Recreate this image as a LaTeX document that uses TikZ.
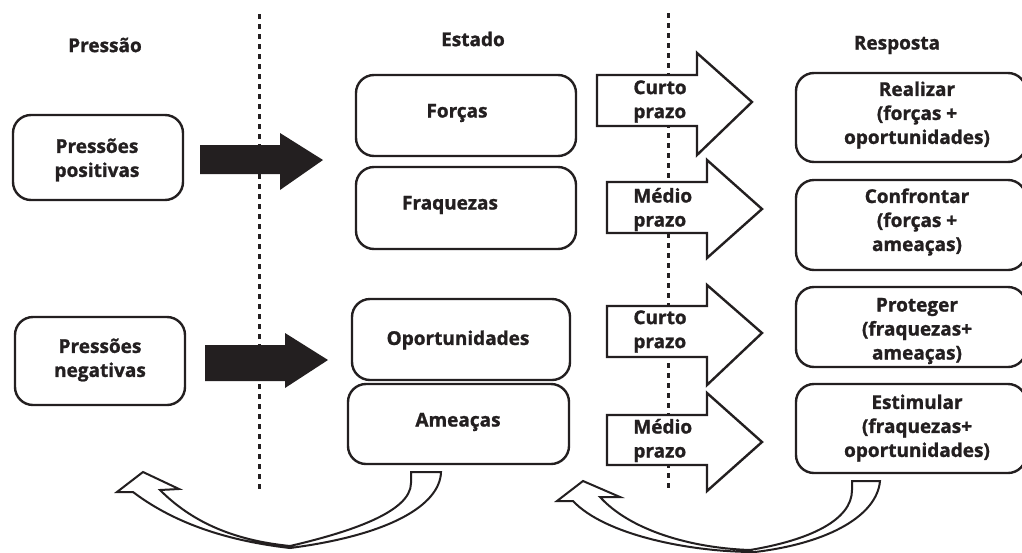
\documentclass[tikz,border=0pt]{standalone}
\usepackage{fontspec}
\setmainfont{Open Sans}[BoldFeatures={FakeBold=1.2}]
\definecolor{ink}{RGB}{35,31,32}
\begin{document}
\begin{tikzpicture}[x=0.5pt,y=-0.5pt,
  box/.style={draw=ink, line width=1.2pt, rounded corners=9pt, fill=white, inner sep=0pt},
  lbl/.style={font=\fontsize{9.5}{12}\selectfont\bfseries, text=ink, align=center, inner sep=0pt},
  sep/.style={draw=ink, line width=1.5pt, dash pattern=on 2.5pt off 2.5pt},
  blk/.style={fill=ink, draw=none},
  wht/.style={fill=white, draw=ink, line width=1.2pt, line join=miter},
  crv/.style={fill=white, draw=ink, line width=1pt, line join=miter}]
\useasboundingbox (0,0) rectangle (1022,552);
\clip (0,0) rectangle (1022,552);
\fill[white] (0,0) rectangle (1022,552);

% separators
\draw[sep] (259,14) -- (259,492);
\draw[sep] (668,13) -- (668,492);

% headers
\node[lbl] (hpress) at (105,45) {Pressão};
\node[lbl] (hest) at (473,39) {Estado};
\node[lbl] (hresp) at (897,45) {Resposta};

% pressure boxes
\node[box, minimum width=85pt, minimum height=42.5pt] (pp) at (98,157.5) {};
\node[box, minimum width=85pt, minimum height=44pt] (pn) at (100,361) {};
\node[lbl] (tpp) at (97,160) {Pressões\\positivas};
\node[lbl] (tpn) at (100,360) {Pressões\\negativas};

% state boxes
\node[box, minimum width=110pt, minimum height=40.5pt] (forcas) at (466,115.5) {};
\node[box, minimum width=110pt, minimum height=41pt] (fraq) at (466,208) {};
\node[box, minimum width=109pt, minimum height=40.5pt] (oport) at (461,339.5) {};
\node[box, minimum width=110.5pt, minimum height=40pt] (ameac) at (458.5,424) {};
\node[lbl] (tforcas) at (457,113) {Forças};
\node[lbl] (tfraq) at (450,205) {Fraquezas};
\node[lbl] (toport) at (458,340) {Oportunidades};
\node[lbl] (tameac) at (458,422) {Ameaças};

% response boxes
\node[box, minimum width=115pt, minimum height=44.5pt] (realiz) at (911,117.5) {};
\node[box, minimum width=115pt, minimum height=45pt] (confr) at (911,225) {};
\node[box, minimum width=115pt, minimum height=40pt] (prot) at (911,327) {};
\node[box, minimum width=115pt, minimum height=44.5pt] (estim) at (911,428.5) {};
\node[lbl] (trealiz) at (917,115) {Realizar\\(forças +\\oportunidades)};
\node[lbl] (tconfr) at (917,222) {Confrontar\\(forças +\\ameaças)};
\node[lbl] (tprot) at (917,331) {Proteger\\(fraquezas+\\ameaças)};
\node[lbl] (testim) at (917,428) {Estimular\\(fraquezas+\\oportunidades)};

% black arrows
\fill[blk] (200,145) -- (280,145) -- (280,133) -- (323,160) -- (280,190) -- (280,174) -- (200,174) -- cycle;
\fill[blk] (205,345) -- (285,345) -- (285,333) -- (328,360) -- (285,388) -- (285,381) -- (205,381) -- cycle;

% white block arrows
\draw[wht] (597,75) -- (697,75) -- (697,53) -- (752,102) -- (697,155) -- (697,126) -- (597,126) -- cycle;
\draw[wht] (607,182) -- (707,182) -- (707,160) -- (762,209) -- (707,258) -- (707,233) -- (607,233) -- cycle;
\draw[wht] (607,306) -- (707,306) -- (707,285) -- (762,333) -- (707,385) -- (707,357) -- (607,357) -- cycle;
\draw[wht] (607,415) -- (707,415) -- (707,393) -- (762,442) -- (707,491) -- (707,465) -- (607,465) -- cycle;
\node[lbl, anchor=west, align=left] (a1) at (633,101.5) {Curto\\prazo};
\node[lbl, anchor=west, align=left] (a2) at (633,209.5) {Médio\\prazo};
\node[lbl, anchor=west, align=left] (a3) at (633,331.5) {Curto\\prazo};
\node[lbl, anchor=west, align=left] (a4) at (633,440.5) {Médio\\prazo};

% curved return arrows
\draw[crv] (441,472) .. controls (440,505) and (390,535) .. (290,548)
  .. controls (220,540) and (170,520) .. (133,492) -- (117,492) -- (143,472) -- (179,489) -- (160,490)
  .. controls (190,520) and (230,540) .. (290,546)
  .. controls (350,532) and (411,512) .. (411,483) -- (411,472) -- cycle;
\draw[crv] (880,481) .. controls (877,515) and (830,543) .. (755,552)
  .. controls (690,552) and (605,535) .. (573,501) -- (557,501) -- (583,481) -- (620,497) -- (600,497)
  .. controls (630,530) and (690,548) .. (750,550)
  .. controls (810,540) and (852,520) .. (852,490) -- (852,481) -- cycle;
\end{tikzpicture}
\end{document}
